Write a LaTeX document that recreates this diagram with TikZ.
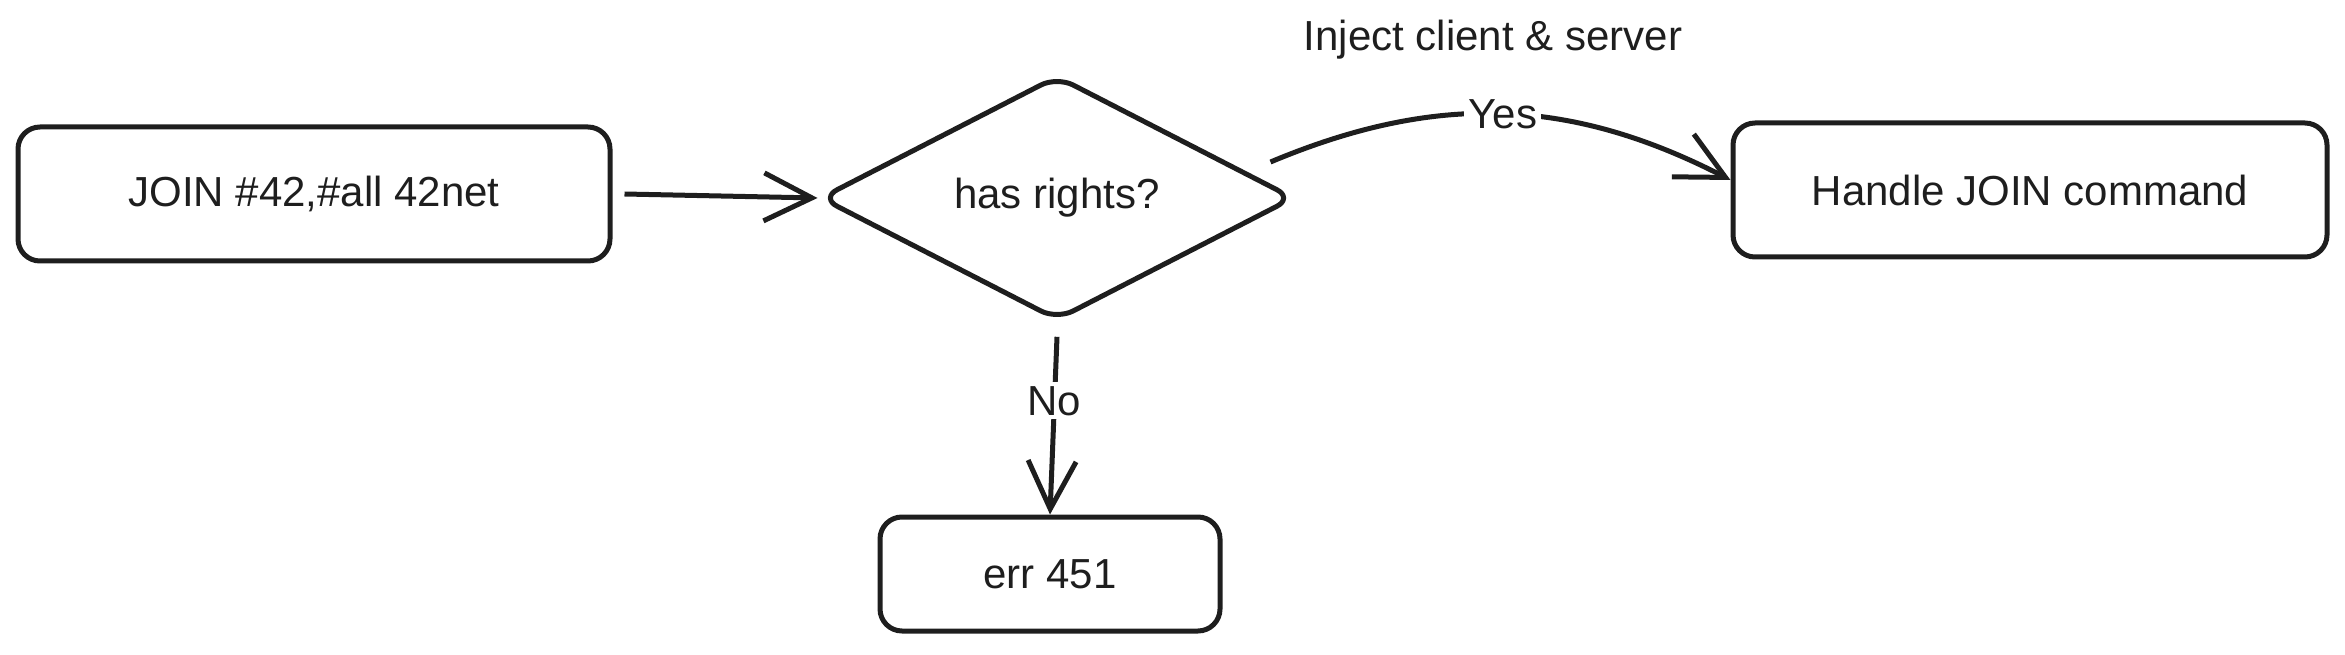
\documentclass[tikz,border=0pt]{standalone}
\usepackage{fontspec}
\setmainfont{Liberation Sans}
\usetikzlibrary{arrows.meta,shapes.geometric}
\definecolor{ink}{HTML}{1E1E1E}
\tikzset{
box/.style={rectangle, draw=ink, rounded corners=11pt, line width=2.5pt, align=center},
decision/.style={diamond, draw=ink, rounded corners=9pt, line width=2.5pt, inner sep=0pt,
  minimum width=237pt, minimum height=116pt},
lbl/.style={fill=white, inner sep=2pt},
arr/.style={draw=ink, line width=2.5pt, -{Straight Barb[length=24pt,width=24pt]}}
}

\begin{document}
\begin{tikzpicture}[x=0.5pt, y=0.5pt, font=\fontsize{21}{25}\selectfont, text=ink]
\useasboundingbox (0,0) rectangle (2345,654);

\node[box, minimum width=296pt, minimum height=67pt] (join) at (314,460) {JOIN \#42,\#all 42net};
\node[decision] (rights) at (1057,456) {has rights?};
\node[box, minimum width=297pt, minimum height=67pt] (handle) at (2030,464) {Handle JOIN command};
\node[box, minimum width=170pt, minimum height=57pt] (err) at (1050,80) {err 451};
\node (inject) at (1493,614) {Inject client \& server};

\draw[arr] ([xshift=6pt]join.east) -- (rights.west);
\draw[arr] ([shift={(-13pt,18pt)}]rights.east) to[bend left=25]
  node[lbl] {Yes} ([yshift=5pt]handle.west);
\draw[arr] ([yshift=-7pt]rights.south) -- node[lbl, pos=0.36] {No} (err.north);

\end{tikzpicture}
\end{document}
